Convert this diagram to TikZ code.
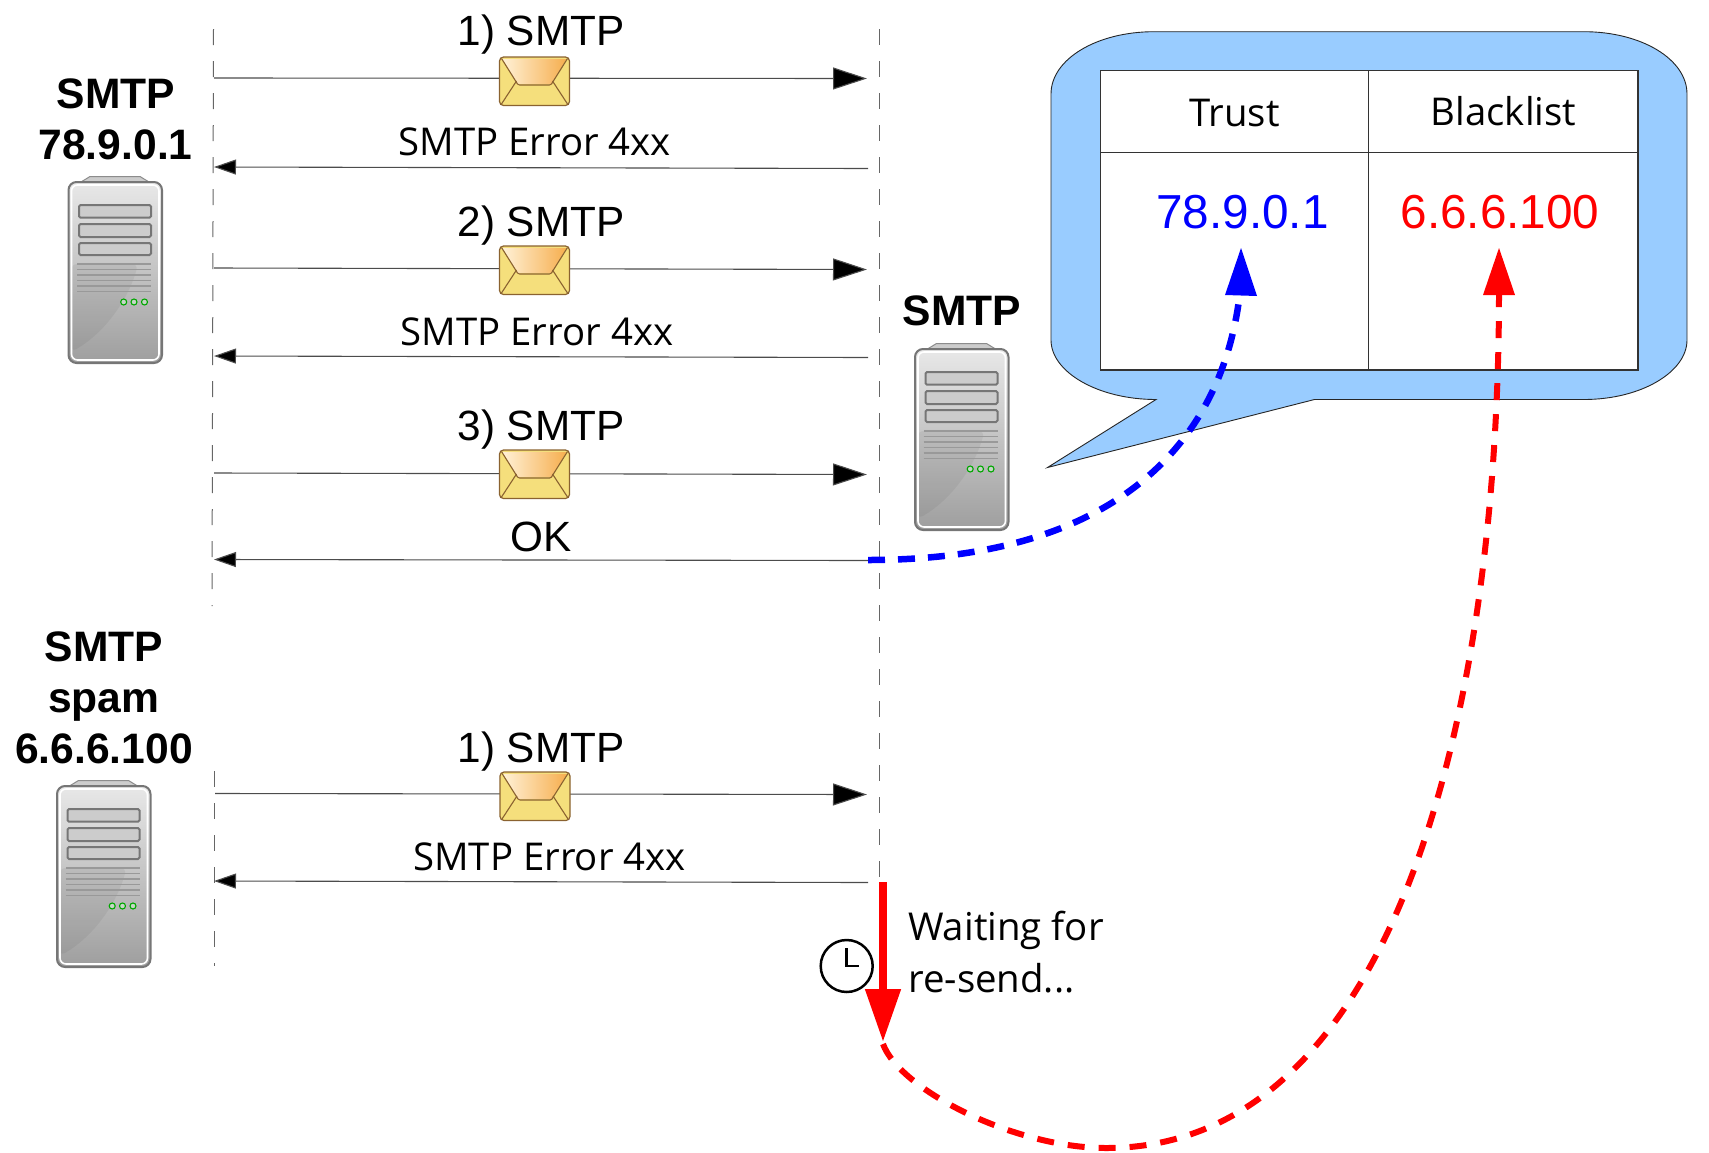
\documentclass[tikz,border=0pt]{standalone}
\usepackage{fontspec}
\setmainfont{Liberation Sans}
\newfontfamily\opensans{Open Sans}
\usetikzlibrary{arrows.meta}
\definecolor{bubblefill}{HTML}{99CCFF}
\definecolor{envline}{HTML}{8A6230}
\definecolor{envbody}{HTML}{F5DF7C}
\definecolor{srvline}{HTML}{767676}
\definecolor{flapa}{HTML}{FFF1D6}
\definecolor{flapb}{HTML}{F6AE4E}
\tikzset{
  lifeline/.style={draw=black!60,line width=1pt,dash pattern=on 16pt off 16pt},
  sendarrow/.style={draw=black!70,line width=1.1pt,-{Triangle[length=34pt,width=22pt,fill=black]}},
  replyarrow/.style={draw=black!70,line width=1.1pt,-{Triangle[length=22pt,width=15pt,fill=black]}},
  msgtext/.style={font=\fontsize{42.3}{42.3}\selectfont,anchor=base,inner sep=0pt},
  errtext/.style={font=\opensans\fontsize{38.3}{38.3}\selectfont,anchor=base,inner sep=0pt},
  hosttext/.style={font=\bfseries\fontsize{42.6}{42.6}\selectfont,anchor=base,inner sep=0pt},
  iptext/.style={font=\fontsize{47.7}{47.7}\selectfont,anchor=base,inner sep=0pt},
  waittext/.style={font=\opensans\fontsize{38.4}{38.4}\selectfont,anchor=base west,inner sep=0pt},
  tableline/.style={draw=black!80,line width=1.2pt},
  pics/server/.style={code={
    \fill[black!20,draw=black!45,line width=1pt] (8,9) -- (22,0.5) -- (72,0.5) -- (86,9) -- cycle;
    \shade[draw=srvline,line width=2pt,rounded corners=8pt,top color=black!9,bottom color=black!38]
      (0.5,6) rectangle (94,187);
    \fill[black,opacity=.05,rounded corners=6pt] (3,176) .. controls (35,158) and (60,125) .. (70,88)
      -- (3,88) -- cycle;
    \draw[white,line width=1.6pt,rounded corners=6pt] (3.5,9) rectangle (91,184);
    \foreach \yy/\zz in {29/41.7,48/61,67/79}{
      \draw[srvline,line width=2pt,fill=black!20,rounded corners=1.5pt] (11,\yy) rectangle (83,\zz);
    }
    \foreach \yy in {88,93.6,99,104.5,110,115.5}{
      \draw[black!40,line width=1.3pt] (9,\yy) -- (83,\yy);
    }
    \foreach \xx in {55.7,66,76.5}{
      \draw[green!65!black,line width=1.1pt,fill=green!25!black!22] (\xx,126) circle (3);
    }
  }},
  pics/envelope/.style={code={
    \fill[envbody,draw=envline,line width=1.2pt,rounded corners=4pt] (0,0) rectangle (70,48.5);
    \shade[left color=flapa,right color=flapb,draw=none]
      (3,2) -- (18,27) -- (52,27) -- (67,2) -- cycle;
    \draw[envline,line width=1.1pt] (2,1.5) -- (18,27) -- (20,28) -- (50,28) -- (52,27) -- (68,1.5);
    \draw[envline,line width=1.1pt] (17,24) -- (2,47);
    \draw[envline,line width=1.1pt] (53,24) -- (68,47);
  }}
}
\begin{document}
\begin{tikzpicture}[x=1pt,y=-1pt]
\useasboundingbox (0,0) rectangle (1709,1152);
% anchors on the lifelines
\coordinate (leftTop) at (213.5,29);
\coordinate (leftBot) at (212,606);
\coordinate (rightTop) at (879,29);
\coordinate (rightBot) at (879,990);
\coordinate (spamTop) at (214,771);
\coordinate (spamBot) at (214,966);
\foreach \nm/\ax/\ay/\bx/\by in {
  a1/214/78/867/78.5, b1/868/168.5/214/167,
  a2/214/268/867/269.5, b2/868/357.5/214/356,
  a3/214/473/867/474.5, b3/868/560.5/214/559.5,
  a4/215/793.5/867/794.5, b4/868/882.5/214/881}{
  \coordinate (\nm s) at (\ax,\ay);
  \coordinate (\nm e) at (\bx,\by);
}
% lifelines
\draw[lifeline] (leftTop) -- (leftBot);
\draw[lifeline] (rightTop) -- (rightBot);
\draw[lifeline] (spamTop) -- (spamBot);
% messages
\draw[sendarrow] (a1s) -- (a1e);
\draw[replyarrow] (b1s) -- (b1e);
\draw[sendarrow] (a2s) -- (a2e);
\draw[replyarrow] (b2s) -- (b2e);
\draw[sendarrow] (a3s) -- (a3e);
\draw[replyarrow] (b3s) -- (b3e);
\draw[sendarrow] (a4s) -- (a4e);
\draw[replyarrow] (b4s) -- (b4e);
% envelopes
\pic at (499.5,57) {envelope};
\pic at (499.5,246) {envelope};
\pic at (499.5,450) {envelope};
\pic at (500,772) {envelope};
% servers
\pic at (68,176) {server};
\pic at (914.5,343) {server};
\pic at (56.5,780) {server};
% labels
\node[msgtext] (m1) at (541,45.5) {1) SMTP};
\node[errtext] (e1) at (534.8,155) {SMTP Error 4xx};
\node[msgtext] (m2) at (541,236.5) {2) SMTP};
\node[errtext] (e2) at (537,345) {SMTP Error 4xx};
\node[msgtext] (m3) at (541,440.5) {3) SMTP};
\node[msgtext] (ok) at (541,551.5) {OK};
\node[msgtext] (m4) at (541,762) {1) SMTP};
\node[errtext] (e4) at (549.5,870) {SMTP Error 4xx};
\node[hosttext] (h1a) at (115.8,108.2) {SMTP};
\node[hosttext] (h1b) at (115.6,159) {78.9.0.1};
\node[hosttext] (h2) at (961.8,325) {SMTP};
\node[hosttext] (h3a) at (103.8,661) {SMTP};
\node[hosttext] (h3b) at (103.8,712.5) {spam};
\node[hosttext] (h3c) at (104,763.5) {6.6.6.100};
% speech bubble
\draw[fill=bubblefill,draw=black!85,line width=.9pt]
  (1154,31.7) -- (1584,31.7)
  .. controls (1641,31.7) and (1687,59) .. (1687,94)
  -- (1687,340)
  .. controls (1687,372) and (1641,399.5) .. (1584,399.5)
  -- (1314.5,399.5) -- (1047.5,467.5) -- (1156,399.5)
  .. controls (1098,399.5) and (1051,372) .. (1051,340)
  -- (1051,94)
  .. controls (1051,59) and (1097,31.7) .. (1154,31.7) -- cycle;
\draw[tableline,fill=white] (1100.5,70.5) rectangle (1638,370);
\draw[tableline,line width=1pt] (1368.5,70.5) -- (1368.5,370);
\draw[tableline,line width=1pt] (1100.5,152) -- (1638,152);
\node[errtext] (trust) at (1234.5,126) {Trust};
\node[errtext] (black) at (1503.5,125) {Blacklist};
\node[iptext,text=blue] (ipgood) at (1242.5,228.5) {78.9.0.1};
\node[iptext,text=red] (ipbad) at (1500,228.5) {6.6.6.100};
% clock
\node[circle,draw=black,line width=2.5pt,minimum size=52pt,inner sep=0pt] (clock) at (846.7,966) {};
\coordinate (handtop) at (846.7,948);
\coordinate (handright) at (859,966);
\draw[line width=2.5pt] (handtop) -- (clock.center) -- (handright);
% waiting
\coordinate (waitA) at (883,882);
\coordinate (waitB) at (883,1042);
\draw[red,line width=8pt,-{Triangle[length=53pt,width=34pt,fill=red]}] (waitA) -- (waitB);
\node[waittext] (w1) at (908,940) {Waiting for};
\node[waittext] (w2) at (908,992.7) {re-send...};
% curved links
\coordinate (blueS) at (868,560);
\coordinate (blueE) at (1241,248);
\coordinate (redS) at (883,1044);
\coordinate (redM) at (1106,1148);
\coordinate (redE) at (1499,248);
\draw[blue,line width=6.5pt,dash pattern=on 17pt off 13pt]
  (blueS) .. controls (1135,560) and (1225,425) .. (1240,292);
\fill[blue] (blueE) -- (1257,296) -- (1225,295) -- cycle;
\draw[red,line width=6pt,dash pattern=on 17pt off 14pt]
  (redS) .. controls (900,1090) and (1015,1148) .. (redM)
  .. controls (1400,1148) and (1499,700) .. (1499,292);
\fill[red] (redE) -- (1515,295) -- (1483,295) -- cycle;
\end{tikzpicture}
\end{document}
